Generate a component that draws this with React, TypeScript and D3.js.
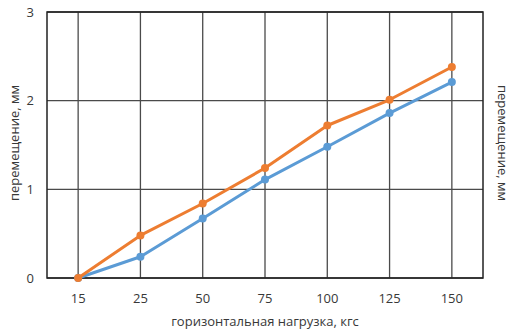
import React, { useEffect, useRef } from "react";
import * as d3 from "d3";

const loads = ["15", "25", "50", "75", "100", "125", "150"];
const orangeValues = [0, 0.48, 0.84, 1.24, 1.72, 2.01, 2.38];
const blueValues = [0, 0.24, 0.67, 1.11, 1.48, 1.86, 2.21];
const yTicks = [0, 1, 2, 3];

const width = 515;
const height = 334;
const margin = { top: 12, right: 32, bottom: 56, left: 47 };
const font = "'Open Sans', 'Noto Sans', sans-serif";
const textColor = "#383838";

export default function App() {
  const svgRef = useRef<SVGSVGElement>(null);

  useEffect(() => {
    if (!svgRef.current) return;
    const svg = d3.select(svgRef.current);
    svg.selectAll("*").remove();

    const x = d3.scaleBand().domain(loads).range([margin.left, width - margin.right]);
    const cx = (d: string) => (x(d) || 0) + x.bandwidth() / 2;
    const y = d3.scaleLinear().domain([0, 3]).range([height - margin.bottom, margin.top]);

    const g = svg.append("g");

    // vertical grid at category centres
    g.selectAll("line.vg")
      .data(loads)
      .enter().append("line")
      .attr("x1", d => cx(d)).attr("x2", d => cx(d))
      .attr("y1", margin.top).attr("y2", height - margin.bottom)
      .attr("stroke", "#4a4a4a").attr("stroke-width", 1.3);

    // horizontal grid
    g.selectAll("line.hg")
      .data(yTicks)
      .enter().append("line")
      .attr("x1", margin.left).attr("x2", width - margin.right)
      .attr("y1", d => y(d)).attr("y2", d => y(d))
      .attr("stroke", "#4a4a4a").attr("stroke-width", 1.3);

    // frame
    g.append("rect")
      .attr("x", margin.left).attr("y", margin.top)
      .attr("width", width - margin.left - margin.right)
      .attr("height", height - margin.top - margin.bottom)
      .attr("fill", "none").attr("stroke", "#222").attr("stroke-width", 1.5);

    const label = (sel: any) =>
      sel.attr("font-family", font).attr("font-size", 13).attr("fill", textColor);

    // y tick labels
    g.selectAll("text.yt")
      .data(yTicks)
      .enter().append("text")
      .attr("x", 34).attr("y", d => y(d))
      .attr("dy", "0.35em").attr("text-anchor", "end")
      .call(label)
      .text(d => d);

    // x tick labels
    g.selectAll("text.xt")
      .data(loads)
      .enter().append("text")
      .attr("x", d => cx(d)).attr("y", 298)
      .attr("dy", "0.35em").attr("text-anchor", "middle")
      .call(label)
      .text(d => d);

    g.append("text")
      .attr("x", 265).attr("y", 321).attr("dy", "0.35em")
      .attr("text-anchor", "middle")
      .call(label)
      .text("горизонтальная нагрузка, кгс");

    g.append("text")
      .attr("transform", "translate(14,143) rotate(-90)")
      .attr("dy", "0.35em").attr("text-anchor", "middle")
      .call(label)
      .text("перемещение, мм");

    g.append("text")
      .attr("transform", "translate(503,143) rotate(90)")
      .attr("dy", "0.35em").attr("text-anchor", "middle")
      .call(label)
      .text("перемещение, мм");

    const line = d3.line<number>()
      .x((_, i) => cx(loads[i]))
      .y(d => y(d));

    const series = [
      { values: blueValues, color: "#5B9BD5" },
      { values: orangeValues, color: "#ED7D31" },
    ];

    series.forEach(s => {
      g.append("path")
        .datum(s.values)
        .attr("d", line)
        .attr("fill", "none")
        .attr("stroke", s.color)
        .attr("stroke-width", 3)
        .attr("stroke-linejoin", "round");
      g.selectAll(null)
        .data(s.values)
        .enter().append("circle")
        .attr("cx", (_, i) => cx(loads[i]))
        .attr("cy", d => y(d))
        .attr("r", 4)
        .attr("fill", s.color);
    });
  }, []);

  return (
    <div style={{ position: "fixed", left: 0, top: 0, width, height, background: "#fff" }}>
      <svg ref={svgRef} width={width} height={height} style={{ display: "block" }} />
    </div>
  );
}
